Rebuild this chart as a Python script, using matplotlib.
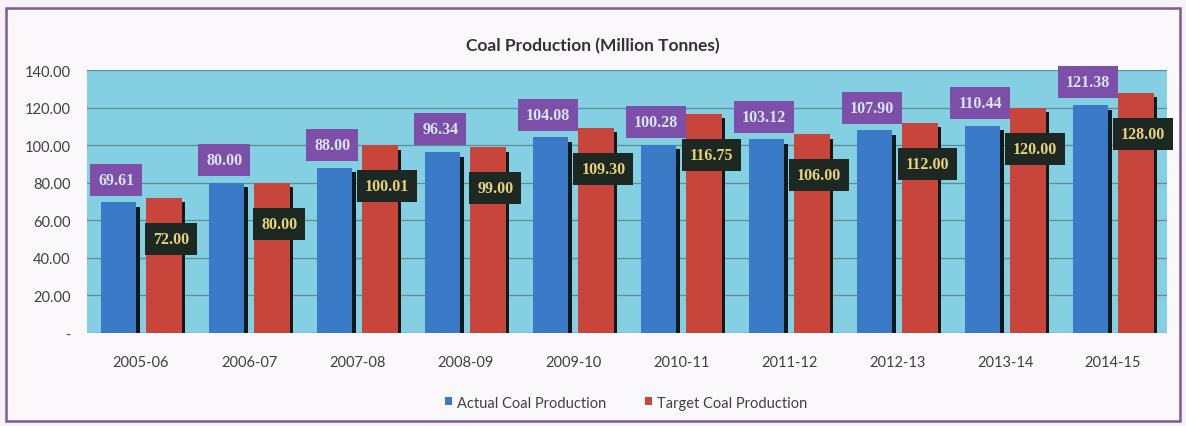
import matplotlib
matplotlib.use("Agg")
import matplotlib.pyplot as plt
from matplotlib.patches import Rectangle
import numpy as np

years = ["2005-06", "2006-07", "2007-08", "2008-09", "2009-10",
         "2010-11", "2011-12", "2012-13", "2013-14", "2014-15"]
actual = [69.61, 80.00, 88.00, 96.34, 104.08, 100.28, 103.12, 107.90, 110.44, 121.38]
target = [72.00, 80.00, 100.01, 99.00, 109.30, 116.75, 106.00, 112.00, 120.00, 128.00]
yticks = [0, 20, 40, 60, 80, 100, 120, 140]
ytick_labels = ["-", "20.00", "40.00", "60.00", "80.00", "100.00", "120.00", "140.00"]

fig = plt.figure(figsize=(11.86, 4.27), dpi=100)
fig.patch.set_facecolor("#f6f2f6")
fig.patches.append(Rectangle((0.005, 0.012), 0.99, 0.968, transform=fig.transFigure,
                             fill=True, facecolor="#fbf8fb", edgecolor="#7a5c98",
                             linewidth=1.8, zorder=-10))

ax = fig.add_axes([0.0734, 0.2178, 0.9106, 0.6159])
ax.set_zorder(1)
ax.set_facecolor("#84cfe2")
x = np.arange(len(years))
w = 0.33
dx = 0.21
sh = 0.035

ax.bar(x - dx + sh, [v - 2.5 for v in actual], w, color="#0f1a18", zorder=2)
ax.bar(x + dx + sh, [v - 2.5 for v in target], w, color="#0f1a18", zorder=2)
ax.bar(x - dx, actual, w, color="#3a7ac6", zorder=3, label="Actual Coal Production")
ax.bar(x + dx, target, w, color="#c8453b", zorder=3, label="Target Coal Production")

lab_font = dict(family=["Liberation Serif", "DejaVu Serif"], fontsize=11.5, fontweight="bold")
for i in range(len(years)):
    ax.text(x[i] - dx - 0.02, actual[i] + 12, f"{actual[i]:.2f}", ha="center", va="center",
            color="#d6e6f5", zorder=6,
            bbox=dict(boxstyle="square,pad=0.5", facecolor="#7d4fa8", edgecolor="none"),
            **lab_font)
    ax.text(x[i] + dx + 0.07, target[i] - 22, f"{target[i]:.2f}", ha="center", va="center",
            color="#e8d27a", zorder=6,
            bbox=dict(boxstyle="square,pad=0.5", facecolor="#1d2823", edgecolor="none"),
            **lab_font)

ax.set_xlim(-0.5, len(years) - 0.5)
ax.set_ylim(0, 140)
ax.set_yticks(yticks)
ax.set_yticklabels(ytick_labels)
ax.set_xticks(x)
ax.set_xticklabels(years)
ax.grid(axis="y", color="#5a8f98", linewidth=0.9, zorder=1)
ax.set_axisbelow(True)
for s in ax.spines.values():
    s.set_visible(False)
ax.tick_params(axis="both", length=0, labelsize=10.5, labelcolor="#404040",
               labelfontfamily="Lato")
ax.tick_params(axis="x", pad=16)
ax.tick_params(axis="y", pad=12)

fig.text(0.5, 0.893, "Coal Production (Million Tonnes)", ha="center", va="center",
         fontsize=12.5, fontweight="bold", color="#333333", family="Lato")

leg = fig.legend(loc="center", bbox_to_anchor=(0.528, 0.055), ncol=2, frameon=False,
                 prop=dict(family="Lato", size=10.5), handlelength=0.5, handleheight=0.5,
                 handletextpad=0.35, columnspacing=2.6, labelcolor="#404040")

fig.savefig("out.png", dpi=100, facecolor=fig.get_facecolor())
